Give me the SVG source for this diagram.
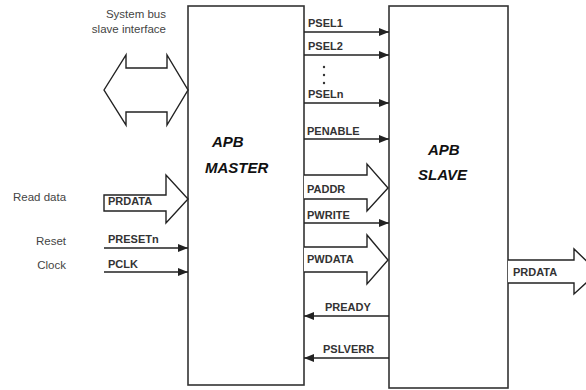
<svg xmlns="http://www.w3.org/2000/svg" width="586" height="390" viewBox="0 0 586 390">
<defs>
<marker id="ah" markerWidth="10" markerHeight="8" refX="10" refY="4" orient="auto" markerUnits="userSpaceOnUse">
<path d="M0,0 L10,4 L0,8 z" fill="#222"/>
</marker>
<style>
.box{fill:#fff;stroke:#333;stroke-width:1.6}
.ln{stroke:#222;stroke-width:1.4;fill:none}
.bus{fill:#fff;stroke:#222;stroke-width:1.4;stroke-linejoin:miter}
.sig{font-family:"Liberation Sans",Arial,sans-serif;font-size:11px;font-weight:bold;fill:#333}
.lab{font-family:"Liberation Sans",Arial,sans-serif;font-size:11.5px;fill:#444}
.ttl{font-family:"Liberation Sans",Arial,sans-serif;font-size:15px;font-weight:bold;font-style:italic;fill:#111}
</style>
</defs>
<rect width="586" height="390" fill="#fff"/>
<g id="master">
<rect class="box" x="188" y="6" width="116" height="379"/>
<text class="ttl" x="212" y="147">APB</text>
<text class="ttl" x="205" y="173">MASTER</text>
</g>
<g id="slave">
<rect class="box" x="389" y="6" width="119" height="382"/>
<text class="ttl" x="428" y="155">APB</text>
<text class="ttl" x="418" y="180">SLAVE</text>
</g>
<g id="labels">
<text class="lab" x="166" y="18" text-anchor="end">System bus</text>
<text class="lab" x="166" y="33" text-anchor="end">slave interface</text>
<text class="lab" x="13" y="201">Read data</text>
<text class="lab" x="66" y="245" text-anchor="end">Reset</text>
<text class="lab" x="66" y="269" text-anchor="end">Clock</text>
</g>
<g id="connectors">
<path class="bus" d="M104,90 L126,55 L126,68 L167,68 L167,55 L188,90 L167,125 L167,112 L126,112 L126,125 Z"/>
<path class="bus" d="M104,195 L166,195 L166,175 L188,199 L166,223 L166,211 L104,211 Z"/>
<line class="ln" x1="104" y1="248" x2="188" y2="248" marker-end="url(#ah)"/>
<line class="ln" x1="104" y1="272" x2="188" y2="272" marker-end="url(#ah)"/>
<line class="ln" x1="304" y1="32" x2="389" y2="32" marker-end="url(#ah)"/>
<line class="ln" x1="304" y1="55" x2="389" y2="55" marker-end="url(#ah)"/>
<line class="ln" x1="304" y1="103" x2="389" y2="103" marker-end="url(#ah)"/>
<line class="ln" x1="304" y1="139" x2="389" y2="139" marker-end="url(#ah)"/>
<path class="bus" d="M304,175 L367,175 L367,164 L388,188 L367,211 L367,199 L304,199"/>
<line class="ln" x1="304" y1="223" x2="389" y2="223" marker-end="url(#ah)"/>
<path class="bus" d="M304,247 L367,247 L367,235 L388,260 L367,284 L367,272 L304,272"/>
<line class="ln" x1="389" y1="316" x2="304" y2="316" marker-end="url(#ah)"/>
<line class="ln" x1="389" y1="358" x2="304" y2="358" marker-end="url(#ah)"/>
<path class="bus" d="M508,260 L574,260 L574,249 L598,272 L574,294 L574,283 L508,283"/>
<circle cx="324" cy="67" r="1.2" fill="#333"/>
<circle cx="324" cy="75" r="1.2" fill="#333"/>
<circle cx="324" cy="83" r="1.2" fill="#333"/>
</g>
<g id="signals">
<text class="sig" x="108" y="205">PRDATA</text>
<text class="sig" x="108" y="243">PRESETn</text>
<text class="sig" x="108" y="268">PCLK</text>
<text class="sig" x="308" y="27">PSEL1</text>
<text class="sig" x="308" y="50">PSEL2</text>
<text class="sig" x="308" y="98">PSELn</text>
<text class="sig" x="307" y="135">PENABLE</text>
<text class="sig" x="307" y="193">PADDR</text>
<text class="sig" x="307" y="219">PWRITE</text>
<text class="sig" x="307" y="263">PWDATA</text>
<text class="sig" x="325" y="311">PREADY</text>
<text class="sig" x="323" y="353">PSLVERR</text>
<text class="sig" x="513" y="276">PRDATA</text>
</g>
</svg>
